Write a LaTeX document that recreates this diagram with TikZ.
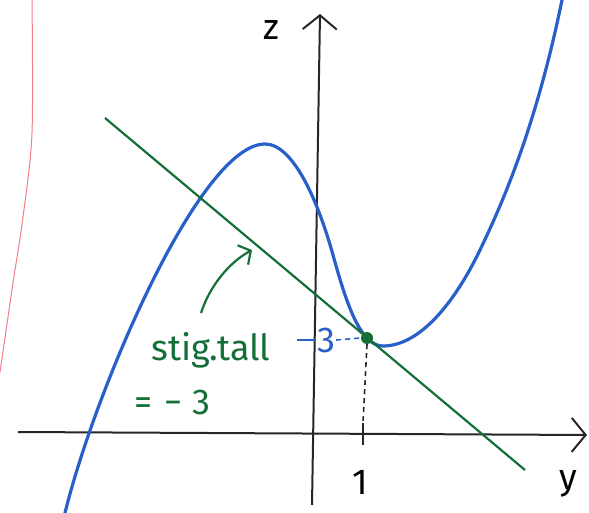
\documentclass[tikz,border=0pt]{standalone}
\usepackage{fontspec}
\setmainfont{Fira Sans}
\definecolor{skblue}{RGB}{40,95,200}
\definecolor{skgreen}{RGB}{20,110,55}
\definecolor{skred}{RGB}{240,125,135}
\usetikzlibrary{arrows.meta,positioning,calc}

\begin{document}
\begin{tikzpicture}[
  x=1pt,y=-1pt,
  every node/.style={font=\fontsize{36}{38}\selectfont,inner sep=1pt},
  axis/.style={line width=2pt,black!85},
  curve/.style={line width=3.2pt,skblue,line cap=round},
  tangent/.style={line width=2.2pt,skgreen},
  guide/.style={dashed,dash pattern=on 5pt off 4pt,line width=1.6pt},
  arr/.style={-{Straight Barb[length=14pt,width=34pt,line width=2pt]}},
  sarr/.style={-{Straight Barb[length=9pt,width=22pt]}},
  dot/.style={circle,fill=skgreen,inner sep=0pt,minimum size=12pt},
]
  \useasboundingbox (0,0) rectangle (589,513);

  % margin line of the paper
  \draw[skred,line width=1pt] plot[smooth] coordinates
    {(32,0) (32,133) (23,217) (13,283) (0,372)};

  % axes
  \coordinate (yl) at (18,432);
  \coordinate (yr) at (587,435);
  \coordinate (zb) at (312,505);
  \coordinate (zt) at (320,14);
  \draw[axis,arr] (yl) -- (yr);
  \draw[axis,arr] (zb) -- (zt);
  \node (zlab) at (271,30) {z};
  \node (ylab) at (568,484) {y};

  % tick at 1
  \coordinate (t1a) at (363,423);
  \coordinate (t1b) at (363,445);
  \draw[axis] (t1a) -- (t1b);
  \node (one) at (360,482) {1};

  % graph
  \draw[curve] (65,513) .. controls (95,390) and (200,144) .. (265,144)
    .. controls (295,144) and (320,208) .. (333,255)
    .. controls (346,302) and (360,346) .. (383,346)
    .. controls (420,346) and (455,302) .. (480,250)
    .. controls (505,198) and (537,122) .. (562,0);

  % tangent line
  \coordinate (tA) at (105,118);
  \coordinate (tB) at (525,470);
  \draw[tangent] (tA) -- (tB);

  % point of contact
  \node[dot] (P) at (367,338) {};
  \draw[guide,black!85] (P.south) -- (t1a);

  % value 3 on z-axis
  \node[text=skblue] (three) at (326,340) {3};
  \coordinate (z3) at (297,340);
  \draw[skblue,line width=1.6pt] (z3) -- (three.west);
  \draw[guide,skblue] (three.east) -- (P.west);

  % slope annotation
  \node[text=skgreen,anchor=base west] (slope) at (150,360) {stig.tall};
  \node[text=skgreen,anchor=base west] (val) at (133,414)
    {=\hspace{12pt}−\hspace{10pt}3};
  \coordinate (aS) at (201,313);
  \coordinate (aE) at (252,250);
  \draw[tangent,sarr] (aS) .. controls (210,285) and (230,262) .. (aE);
\end{tikzpicture}
\end{document}
